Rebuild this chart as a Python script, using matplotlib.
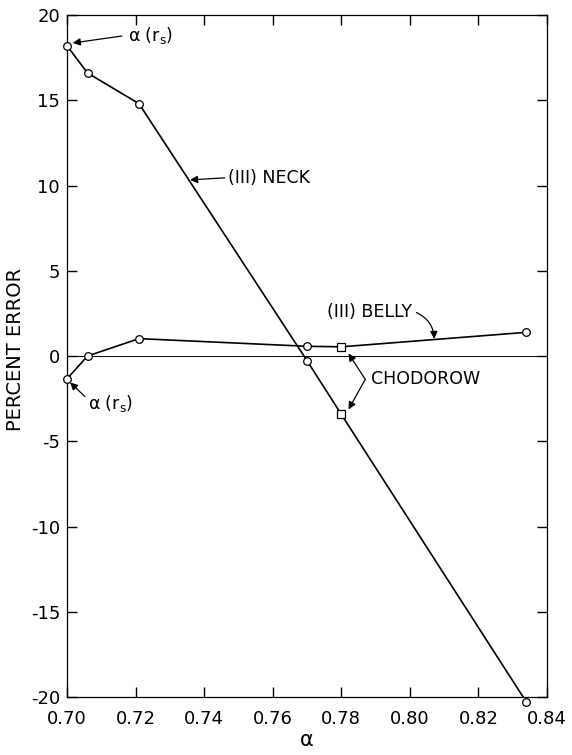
import numpy as np
import matplotlib.pyplot as plt

# percent error vs alpha for the two (III) shapes
neck_alpha = [0.700, 0.706, 0.721, 0.770, 0.780, 0.834]
neck_err = [18.2, 16.6, 14.8, -0.27, -3.42, -20.3]
neck_chodorow = [False, False, False, False, True, False]

belly_alpha = [0.700, 0.706, 0.721, 0.770, 0.780, 0.834]
belly_err = [-1.34, 0.0, 1.02, 0.57, 0.54, 1.39]
belly_chodorow = [False, False, False, False, True, False]

x_ticks = [0.70, 0.72, 0.74, 0.76, 0.78, 0.80, 0.82, 0.84]
y_ticks = [-20, -15, -10, -5, 0, 5, 10, 15, 20]

plt.rcParams["font.family"] = "DejaVu Sans"
plt.rcParams["mathtext.fontset"] = "dejavusans"
plt.rcParams["axes.unicode_minus"] = False

fig = plt.figure(figsize=(5.72, 7.55), dpi=100)
ax = fig.add_axes([0.1171, 0.0768, 0.8392, 0.9033])


def draw_curve(xs, ys, squares):
    ax.plot(xs, ys, color="black", lw=1.2, zorder=2)
    xs = np.asarray(xs)
    ys = np.asarray(ys)
    sq = np.asarray(squares)
    ax.plot(xs[~sq], ys[~sq], "o", ms=5.5, mfc="white", mec="black",
            mew=0.9, clip_on=False, zorder=3)
    ax.plot(xs[sq], ys[sq], "s", ms=5.5, mfc="white", mec="black",
            mew=0.9, clip_on=False, zorder=3)


draw_curve(neck_alpha, neck_err, neck_chodorow)
draw_curve(belly_alpha, belly_err, belly_chodorow)

ax.axhline(0, color="black", lw=0.7, zorder=1)

ax.set_xlim(0.70, 0.84)
ax.set_ylim(-20, 20)
ax.set_xticks(x_ticks)
ax.set_xticklabels([f"{v:.2f}" for v in x_ticks])
ax.set_yticks(y_ticks)
ax.set_yticklabels([str(v) for v in y_ticks])
ax.tick_params(direction="in", length=7, width=1, top=True, right=True,
               labelsize=13)
ax.tick_params(axis="y", pad=5)
ax.tick_params(axis="x", pad=9)
for s in ax.spines.values():
    s.set_linewidth(0.9)

ax.set_ylabel("PERCENT ERROR", fontsize=14)
ax.yaxis.set_label_coords(-0.088, 0.51)
ax.set_xlabel("α", fontsize=15)
ax.xaxis.set_label_coords(0.5, -0.048)

arrow = dict(arrowstyle="-|>", color="black", lw=0.9, mutation_scale=11,
             shrinkA=0, shrinkB=0)
lbl = dict(fontsize=12.5, va="center", ha="left")

# alpha(r_s) labels
ax.text(0.7178, 18.8, r"α (r$_{\rm s}$)", **lbl)
ax.annotate("", xy=(0.7017, 18.36), xytext=(0.716, 18.77), arrowprops=arrow)
ax.text(0.7061, -2.78, r"α (r$_{\rm s}$)", **lbl)
ax.annotate("", xy=(0.7009, -1.55), xytext=(0.7052, -2.37), arrowprops=arrow)

# curve names
ax.text(0.7469, 10.45, "(III) NECK", **lbl)
ax.annotate("", xy=(0.7359, 10.33), xytext=(0.746, 10.45), arrowprops=arrow)
ax.text(0.7757, 2.6, "(III) BELLY", **lbl)
ax.annotate("", xy=(0.8071, 1.0), xytext=(0.8019, 2.55),
            arrowprops=dict(arrow, connectionstyle="arc3,rad=-0.3"))

# Chodorow points
ax.text(0.7888, -1.37, "CHODOROW", **lbl)
ax.annotate("", xy=(0.7821, 0.15), xytext=(0.787, -1.37), arrowprops=arrow)
ax.annotate("", xy=(0.7821, -3.13), xytext=(0.787, -1.37), arrowprops=arrow)

fig.savefig("out.png", dpi=100)
